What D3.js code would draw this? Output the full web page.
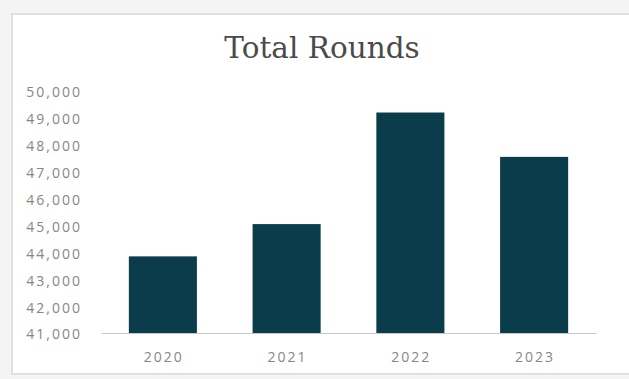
<!DOCTYPE html>
<html>
<head>
<meta charset="utf-8">
<script src="https://cdn.jsdelivr.net/npm/d3@7"></script>
<style>
  body { margin: 0; background: #f4f4f4; }
  .tick text { fill: #868686; font-family: "Open Sans", sans-serif; font-size: 14px; letter-spacing: 2px; }
</style>
</head>
<body>
<div id="chart"></div>
<script>
// chart data
var years = ["2020", "2021", "2022", "2023"];
var rounds = [43850, 45050, 49200, 47550];
var yTicks = [41000, 42000, 43000, 44000, 45000, 46000, 47000, 48000, 49000, 50000];

var svgWidth = 629;
var svgHeight = 379;
var margin = { top: 91, right: 33, bottom: 46, left: 101 };
var width = svgWidth - margin.left - margin.right;
var height = svgHeight - margin.top - margin.bottom;

var svg = d3.select("#chart")
  .append("svg")
  .attr("width", svgWidth)
  .attr("height", svgHeight);

// chart panel
svg.append("rect")
  .attr("x", 12)
  .attr("y", 14)
  .attr("width", 640)
  .attr("height", 360)
  .attr("fill", "#ffffff")
  .attr("stroke", "#e0e0e0")
  .attr("stroke-width", 2);

var chartGroup = svg.append("g")
  .attr("transform", `translate(${margin.left}, ${margin.top})`);

var xScale = d3.scaleBand()
  .domain(years)
  .range([0, width])
  .paddingInner(0.45)
  .paddingOuter(0.225);

var yScale = d3.scaleLinear()
  .domain([41000, 50000])
  .range([height, 0]);

// y axis labels only
var leftAxis = d3.axisLeft(yScale)
  .tickValues(yTicks)
  .tickFormat(d3.format(","))
  .tickSize(0)
  .tickPadding(19);

var yAxis = chartGroup.append("g").call(leftAxis);
yAxis.select(".domain").remove();
yAxis.selectAll(".tick text").attr("dy", "0.42em");

// bars
chartGroup.selectAll("rect.bar")
  .data(years)
  .enter()
  .append("rect")
  .attr("class", "bar")
  .attr("x", d => xScale(d))
  .attr("y", (d, i) => yScale(rounds[i]))
  .attr("width", xScale.bandwidth())
  .attr("height", (d, i) => height - yScale(rounds[i]))
  .attr("fill", "#0b3c4c");

// x axis
var bottomAxis = d3.axisBottom(xScale).tickSize(0).tickPadding(19);
var xAxis = chartGroup.append("g")
  .attr("transform", `translate(0, ${height})`)
  .call(bottomAxis);
xAxis.select(".domain").attr("stroke", "#c8c8c8").attr("stroke-width", 1.2);
xAxis.selectAll(".tick text").attr("dx", "1px");

// title
svg.append("text")
  .attr("x", 322)
  .attr("y", 58)
  .attr("text-anchor", "middle")
  .attr("fill", "#4a4a4a")
  .style("font-family", "'DejaVu Serif', serif")
  .style("font-size", "29.5px")
  .text("Total Rounds");
</script>
</body>
</html>
